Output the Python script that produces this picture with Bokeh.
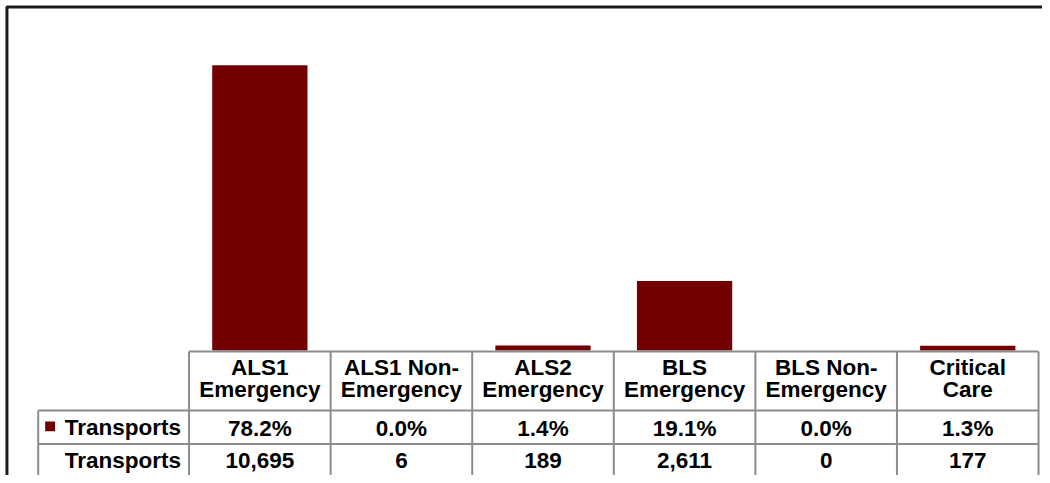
from bokeh.plotting import figure
from bokeh.models import Range1d
from bokeh.core.properties import value
from bokeh.embed import file_html
from bokeh.resources import INLINE

# ---- data ----
categories = ["ALS1\nEmergency", "ALS1 Non-\nEmergency", "ALS2\nEmergency",
              "BLS\nEmergency", "BLS Non-\nEmergency", "Critical\nCare"]
pct_values = [78.2, 0.0, 1.4, 19.1, 0.0, 1.3]
counts = [10695, 6, 189, 2611, 0, 177]
series_name = "Transports"

# ---- layout (reference-image pixels, mapped onto the figure) ----
REF_W, REF_H = 1050, 483
W, H = 1042, 475
COL0, COL_END = 190, 1046          # value-column span of table
LABEL_LEFT = 38
BASE_Y = 356                        # baseline of the bars
PX_PER_PCT = 3.71
BAR_COLOR = "#730000"
GRID = "#8c8c8c"
FONT = value("Liberation Sans")
FSIZE = "22.5px"

n = len(categories)
unit = (COL_END - COL0) / n
x_start = (0 - COL0) / unit
x_end = (REF_W - COL0) / unit
y_start = -(REF_H - BASE_Y) / PX_PER_PCT
y_end = BASE_Y / PX_PER_PCT

p = figure(width=W, height=H, output_backend="svg", toolbar_location=None,
           x_range=Range1d(x_start, x_end), y_range=Range1d(y_start, y_end),
           min_border=0, min_border_left=0, min_border_right=0,
           min_border_top=0, min_border_bottom=0)
p.axis.visible = False
p.grid.visible = False
p.outline_line_color = None
p.background_fill_color = "white"
p.border_fill_color = "white"
p.extra_x_ranges = {"px": Range1d(0, REF_W)}
p.extra_y_ranges = {"px": Range1d(REF_H, 0)}

# ---- bars ----
xc = [i + 0.5 for i in range(n)]
p.vbar(x=xc, top=pct_values, bottom=0, width=0.673,
       fill_color=BAR_COLOR, line_color=None)

# ---- outer border ----
p.line(x=[6.5, 6.5, 1100], y=[600, 6.5, 6.5], line_color="#1a1a1a",
       line_width=3, x_range_name="px", y_range_name="px")

# ---- table grid ----
vx = [COL0 + k * unit for k in range(n + 1)]
xs = [[v, v] for v in vx] + [[LABEL_LEFT, LABEL_LEFT],
                              [COL0, COL_END], [LABEL_LEFT, COL_END], [LABEL_LEFT, COL_END]]
ys = [[357, 600] for _ in vx] + [[417, 600], [357, 357], [417, 417], [451, 451]]
p.multi_line(xs=xs, ys=ys, line_color=GRID, line_width=2,
             x_range_name="px", y_range_name="px")

# ---- header / cell text ----
line1 = [c.split("\n")[0] for c in categories]
line2 = [c.split("\n")[1] for c in categories]
common = dict(text_font=FONT, text_font_style="bold", text_font_size=FSIZE,
              text_color="black", text_align="center", text_baseline="middle",
              y_range_name="px")
p.text(x=xc, y=[373] * n, text=line1, **common)
p.text(x=xc, y=[396] * n, text=line2, **common)
p.text(x=xc, y=[435] * n, text=[f"{v:.1f}%" for v in pct_values], **common)
p.text(x=xc, y=[467.5] * n, text=[f"{c:,}" for c in counts], **common)

# ---- row labels ----
lab = dict(text_font=FONT, text_font_style="bold", text_font_size=FSIZE,
           text_color="black", text_align="right", text_baseline="middle",
           x_range_name="px", y_range_name="px")
p.text(x=[182], y=[434.5], text=[series_name], **lab)
p.text(x=[182], y=[467.5], text=[series_name], **lab)
p.rect(x=[50], y=[433], width=10, height=10, fill_color=BAR_COLOR,
       line_color=None, x_range_name="px", y_range_name="px")

open("out.html", "w").write(file_html(p, INLINE))
